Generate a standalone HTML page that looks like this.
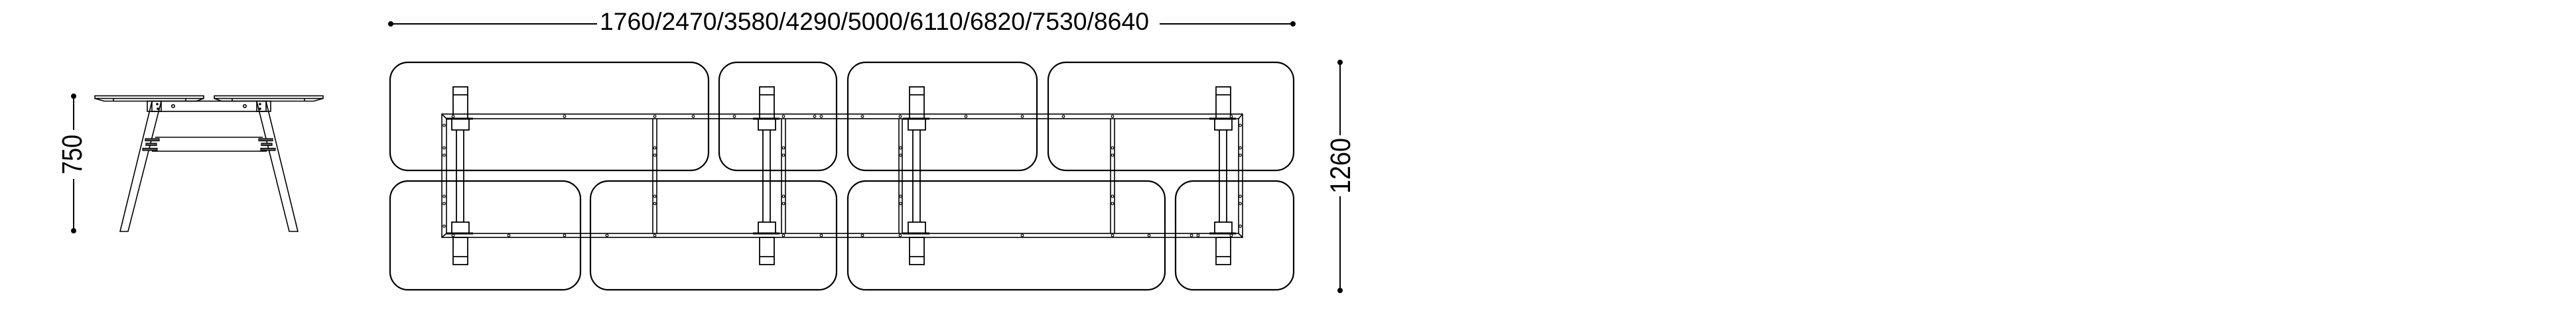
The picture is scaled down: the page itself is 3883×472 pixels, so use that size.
<!DOCTYPE html>
<html><head><meta charset="utf-8"><style>
html,body{margin:0;padding:0;background:#fff;}
svg{display:block;}
text{font-family:"Liberation Sans",sans-serif;fill:#000;}
</style></head><body>
<svg width="3883" height="472" viewBox="0 0 3883 472" xmlns="http://www.w3.org/2000/svg">
<rect width="3883" height="472" fill="#fff"/>
<g stroke="#000" fill="none">
<line x1="111" y1="145" x2="111" y2="196" stroke-width="2"/>
<line x1="111" y1="270" x2="111" y2="348" stroke-width="2"/>
<circle cx="111" cy="145" r="3.5" fill="#000"/>
<circle cx="111" cy="348" r="3.5" fill="#000"/>
<g stroke-width="1.6">
<rect x="143" y="144.5" width="164" height="4" fill="#fff"/>
<path d="M143 148.5 L157 152.5 L296 152.5 L307 148.5"/>
<line x1="171" y1="148.5" x2="171" y2="152.5"/><line x1="280" y1="148.5" x2="280" y2="152.5"/>
<rect x="323" y="144.5" width="164" height="4" fill="#fff"/>
<path d="M323 148.5 L334 152.5 L473 152.5 L487 148.5"/>
<line x1="350" y1="148.5" x2="350" y2="152.5"/><line x1="459" y1="148.5" x2="459" y2="152.5"/>
<rect x="222" y="152.5" width="186" height="15.5"/>
<circle cx="261" cy="160" r="2.2"/><circle cx="369" cy="160" r="2.2"/>
<rect x="229" y="152.5" width="14" height="15.5"/>
<rect x="387" y="152.5" width="14" height="15.5"/>
<path d="M229 153 L181 349 L193 349 L243 153"/>
<path d="M387 153 L436 349 L449 349 L401 153"/>
<line x1="234" y1="207" x2="396" y2="207"/>
<line x1="229" y1="228" x2="402" y2="228"/>
</g>
<circle cx="237" cy="157" r="1.3" fill="#000"/><circle cx="238" cy="164" r="1.3" fill="#000"/>
<circle cx="392" cy="157" r="1.3" fill="#000"/><circle cx="392" cy="164" r="1.3" fill="#000"/>
<g fill="#555" stroke-width="1.2">
<rect x="219" y="209" width="21" height="3.5"/><rect x="220" y="216" width="16" height="3.5"/><rect x="215" y="223.5" width="22" height="3.5"/>
<rect x="390" y="209" width="21" height="3.5"/><rect x="394" y="216" width="16" height="3.5"/><rect x="393" y="223.5" width="22" height="3.5"/>
</g>

<line x1="589" y1="36" x2="900" y2="36" stroke-width="2"/>
<line x1="1748" y1="36" x2="1949" y2="36" stroke-width="2"/>
<circle cx="589" cy="36" r="3.5" fill="#000"/>
<circle cx="1949" cy="36" r="3.5" fill="#000"/>

<line x1="2020" y1="94" x2="2020" y2="204" stroke-width="2"/>
<line x1="2020" y1="296" x2="2020" y2="438" stroke-width="2"/>
<circle cx="2020" cy="94" r="3.5" fill="#000"/>
<circle cx="2020" cy="438" r="3.5" fill="#000"/>

<g stroke-width="2.2">
<rect x="588" y="94" width="480" height="163" rx="27"/>
<rect x="1084" y="94" width="177" height="163" rx="27"/>
<rect x="1278" y="94" width="285" height="163" rx="27"/>
<rect x="1580" y="94" width="370" height="163" rx="27"/>
<rect x="588" y="273" width="287" height="164" rx="27"/>
<rect x="890" y="273" width="371" height="164" rx="27"/>
<rect x="1278" y="273" width="478" height="164" rx="27"/>
<rect x="1772" y="273" width="178" height="164" rx="27"/>
</g>

<g stroke-width="1.6">
<rect x="666" y="172" width="1207" height="186"/>
<rect x="673" y="179" width="1194" height="173"/>
<line x1="666" y1="172" x2="673" y2="179"/><line x1="1873" y1="172" x2="1867" y2="179"/>
<line x1="666" y1="358" x2="673" y2="352"/><line x1="1873" y1="358" x2="1867" y2="352"/>
<line x1="984" y1="179" x2="984" y2="352"/><line x1="990" y1="179" x2="990" y2="352"/>
<line x1="1178" y1="179" x2="1178" y2="352"/><line x1="1184" y1="179" x2="1184" y2="352"/>
<line x1="1355" y1="179" x2="1355" y2="352"/><line x1="1360" y1="179" x2="1360" y2="352"/>
<line x1="1674" y1="179" x2="1674" y2="352"/><line x1="1680" y1="179" x2="1680" y2="352"/>
</g>

<g stroke-width="1.8">
<g id="leg1">
<rect x="683" y="131" width="22" height="48" fill="none"/>
<line x1="683" y1="143" x2="705" y2="143"/>
<rect x="681" y="179" width="26" height="17"/>
<line x1="688" y1="196" x2="688" y2="335"/><line x1="699" y1="196" x2="699" y2="335"/>
<rect x="681" y="335" width="26" height="17"/>
<rect x="683" y="358" width="22" height="41"/>
<line x1="683" y1="387" x2="705" y2="387"/>
<line x1="673" y1="179" x2="713" y2="179" stroke-width="3"/>
<line x1="673" y1="352" x2="713" y2="352" stroke-width="3"/>
</g>
<use href="#leg1" x="462"/>
<use href="#leg1" x="688"/>
<use href="#leg1" x="1150"/>
</g>

<g stroke-width="1.2" fill="#fff">
<circle cx="683" cy="175.5" r="1.8"/><circle cx="851" cy="175.5" r="1.8"/><circle cx="987" cy="175.5" r="1.8"/><circle cx="1045" cy="175.5" r="1.8"/><circle cx="1107" cy="175.5" r="1.8"/><circle cx="1181" cy="175.5" r="1.8"/><circle cx="1228" cy="175.5" r="1.8"/><circle cx="1238" cy="175.5" r="1.8"/><circle cx="1300" cy="175.5" r="1.8"/><circle cx="1357" cy="175.5" r="1.8"/><circle cx="1456" cy="175.5" r="1.8"/><circle cx="1541" cy="175.5" r="1.8"/><circle cx="1603" cy="175.5" r="1.8"/><circle cx="1677" cy="175.5" r="1.8"/><circle cx="1856" cy="175.5" r="1.8"/>
<circle cx="683" cy="355" r="1.8"/><circle cx="767" cy="355" r="1.8"/><circle cx="851" cy="355" r="1.8"/><circle cx="915" cy="355" r="1.8"/><circle cx="987" cy="355" r="1.8"/><circle cx="1181" cy="355" r="1.8"/><circle cx="1238" cy="355" r="1.8"/><circle cx="1300" cy="355" r="1.8"/><circle cx="1357" cy="355" r="1.8"/><circle cx="1541" cy="355" r="1.8"/><circle cx="1677" cy="355" r="1.8"/><circle cx="1732" cy="355" r="1.8"/><circle cx="1796" cy="355" r="1.8"/><circle cx="1806" cy="355" r="1.8"/><circle cx="1856" cy="355" r="1.8"/>
<circle cx="669.5" cy="189" r="1.8"/><circle cx="669.5" cy="223" r="1.8"/><circle cx="669.5" cy="234" r="1.8"/><circle cx="669.5" cy="296" r="1.8"/><circle cx="669.5" cy="307" r="1.8"/><circle cx="669.5" cy="341" r="1.8"/>
<circle cx="1869.5" cy="189" r="1.8"/><circle cx="1869.5" cy="223" r="1.8"/><circle cx="1869.5" cy="234" r="1.8"/><circle cx="1869.5" cy="296" r="1.8"/><circle cx="1869.5" cy="307" r="1.8"/><circle cx="1869.5" cy="341" r="1.8"/>
<circle cx="987" cy="223" r="1.8"/><circle cx="987" cy="234" r="1.8"/><circle cx="987" cy="296" r="1.8"/><circle cx="987" cy="307" r="1.8"/>
<circle cx="1181" cy="223" r="1.8"/><circle cx="1181" cy="234" r="1.8"/><circle cx="1181" cy="296" r="1.8"/><circle cx="1181" cy="307" r="1.8"/>
<circle cx="1357.5" cy="223" r="1.8"/><circle cx="1357.5" cy="234" r="1.8"/><circle cx="1357.5" cy="296" r="1.8"/><circle cx="1357.5" cy="307" r="1.8"/>
<circle cx="1677" cy="223" r="1.8"/><circle cx="1677" cy="234" r="1.8"/><circle cx="1677" cy="296" r="1.8"/><circle cx="1677" cy="307" r="1.8"/>
</g>
</g>

<text x="904" y="45" font-size="37.5" textLength="828" lengthAdjust="spacingAndGlyphs">1760/2470/3580/4290/5000/6110/6820/7530/8640</text>
<text transform="translate(123,233) rotate(-90)" font-size="43" text-anchor="middle" textLength="60" lengthAdjust="spacingAndGlyphs">750</text>
<text transform="translate(2035,250) rotate(-90)" font-size="43" text-anchor="middle" textLength="84" lengthAdjust="spacingAndGlyphs">1260</text>
</svg>
</body></html>
